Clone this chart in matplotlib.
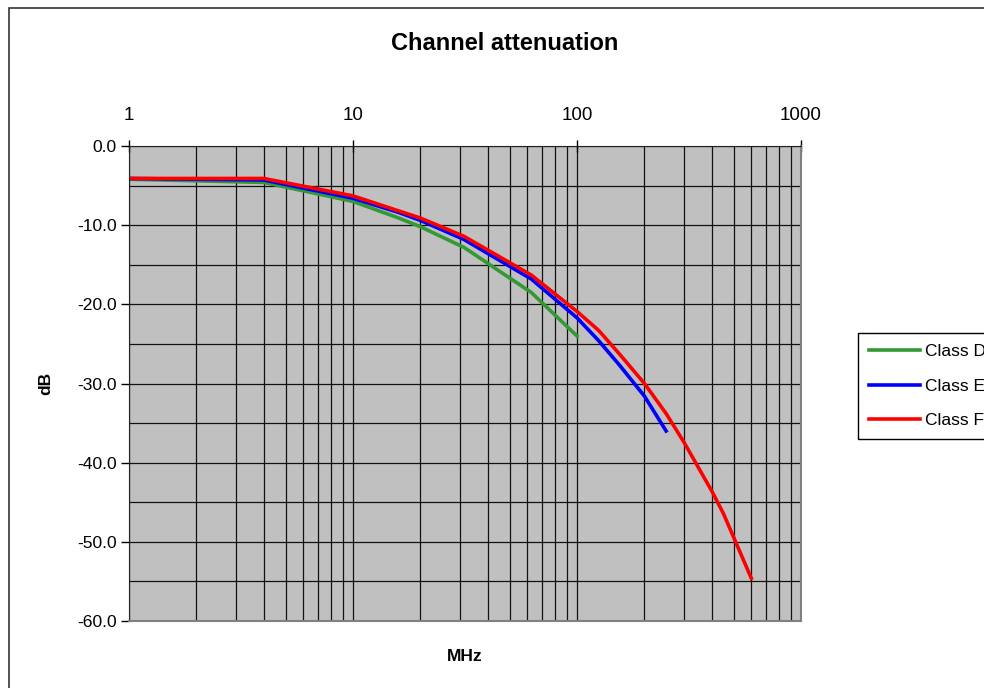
import matplotlib
matplotlib.use("Agg")
import matplotlib.pyplot as plt
import matplotlib.ticker as mticker
from matplotlib.patches import Rectangle

plt.rcParams['font.family'] = ['Liberation Sans', 'DejaVu Sans']
plt.rcParams['axes.unicode_minus'] = False

# values (MHz, dB)
freq_d = [1, 4, 10, 16, 20, 31.25, 62.5, 100]
att_d = [-4.2, -4.6, -7.0, -9.1, -10.2, -12.8, -18.5, -24.0]

freq_e = [1, 4, 10, 16, 20, 31.25, 62.5, 100, 125, 155, 200, 250]
att_e = [-4.1, -4.3, -6.6, -8.4, -9.4, -11.8, -16.8, -21.7, -24.6, -27.7, -31.6, -36.0]

freq_f = [1, 4, 10, 16, 20, 31.25, 62.5, 100, 125, 155, 200, 250, 300, 400, 450, 600]
att_f = [-4.1, -4.1, -6.3, -8.2, -9.1, -11.4, -16.3, -20.9, -23.3, -26.3, -30.0,
         -33.8, -37.4, -43.6, -46.4, -54.6]

series = [("Class D", freq_d, att_d, "#339933"),
          ("Class E", freq_e, att_e, "#0000FF"),
          ("Class F", freq_f, att_f, "#FF0000")]

fig = plt.figure(figsize=(9.84, 6.88), dpi=100)
fig.patches.append(Rectangle((9/984, -0.2), 1.2, 0.2 + (688-8)/688,
                             transform=fig.transFigure, fill=False,
                             edgecolor="#333333", linewidth=1.2))

ax = fig.add_axes([129/984, 67/688, 672/984, 475/688])
ax.set_facecolor("#C0C0C0")

for name, f, a, c in series:
    ax.plot(f, a, color=c, linewidth=2.6, label=name)

ax.set_xscale('log')
ax.set_xlim(1, 1000)
ax.set_ylim(-60, 0)
ax.xaxis.tick_top()
ax.xaxis.set_label_position('bottom')
ax.xaxis.set_major_locator(mticker.FixedLocator([1, 10, 100, 1000]))
ax.xaxis.set_major_formatter(mticker.FixedFormatter(["1", "10", "100", "1000"]))
ax.xaxis.set_minor_locator(mticker.LogLocator(base=10, subs=range(2, 10)))
ax.xaxis.set_minor_formatter(mticker.NullFormatter())
ax.yaxis.set_major_locator(mticker.MultipleLocator(10))
ax.yaxis.set_minor_locator(mticker.MultipleLocator(5))
ax.yaxis.set_major_formatter(mticker.FormatStrFormatter('%.1f'))

ax.grid(True, which='both', color='#111111', linewidth=0.9)
ax.set_axisbelow(True)

ax.tick_params(axis='x', which='major', direction='inout', length=8, width=1,
               labelsize=13.5, pad=12)
ax.tick_params(axis='y', which='major', direction='out', length=6, width=1,
               labelsize=12.6, pad=3)
ax.tick_params(which='minor', length=0)

for s in ['left', 'top']:
    ax.spines[s].set_color('#222222')
for s in ['right', 'bottom']:
    ax.spines[s].set_color('#808080')
    ax.spines[s].set_linewidth(1.5)

ax.set_xlabel("MHz", fontsize=12.5, fontweight='bold', labelpad=20)
ax.set_ylabel("dB", fontsize=12.5, fontweight='bold', labelpad=17)
fig.text(505/984, 1 - 43/688, "Channel attenuation", ha='center', va='center',
         fontsize=17, fontweight='bold')

leg = fig.legend(loc='upper left', bbox_to_anchor=(858/984, 1 - 333/688),
                 fontsize=12.5, handlelength=2.9, handletextpad=0.3,
                 labelspacing=1.1, borderpad=0.65, borderaxespad=0,
                 frameon=True, fancybox=False, framealpha=1)
leg.get_frame().set_edgecolor('black')
leg.get_frame().set_linewidth(1)

fig.savefig("out.png", dpi=100)
